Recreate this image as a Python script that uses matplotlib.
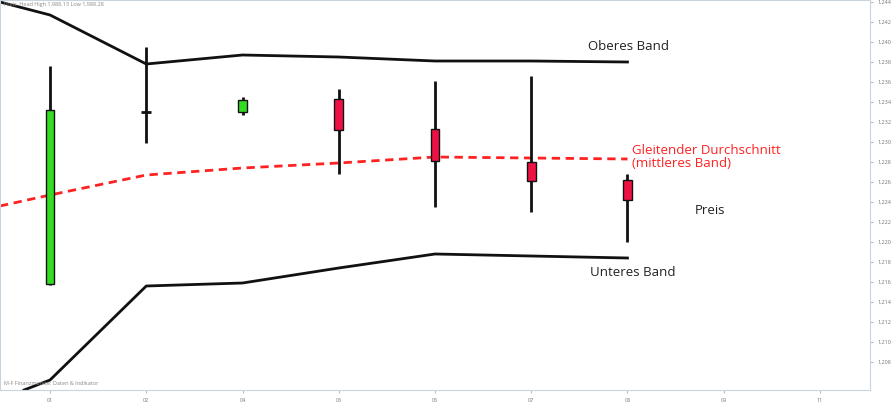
import numpy as np
from matplotlib import pyplot as plt

# candles
idx = [0, 1, 2, 3, 4, 5, 6]
opens = [1215.8, 1233.0, 1233.0, 1234.3, 1231.3, 1228.0, 1226.2]
closes = [1233.2, 1233.1, 1234.2, 1231.2, 1228.1, 1226.1, 1224.2]
highs = [1237.6, 1239.5, 1234.5, 1235.3, 1236.1, 1236.6, 1226.8]
lows = [1215.7, 1229.9, 1232.7, 1226.8, 1223.5, 1223.0, 1220.0]

# bands
band_x = [-0.52, 0, 1, 2, 3, 4, 5, 6]
upper = [1244.0, 1242.7, 1237.8, 1238.7, 1238.5, 1238.1, 1238.1, 1238.0]
middle = [1223.6, 1224.7, 1226.7, 1227.4, 1227.9, 1228.5, 1228.4, 1228.3]
lower_x = [-0.27, 0, 1, 2, 3, 4, 5, 6]
lower = [1205.2, 1206.2, 1215.6, 1215.9, 1217.4, 1218.8, 1218.6, 1218.4]

xticks = [0, 1, 2, 3, 4, 5, 6, 7, 8]
xlabels = ["01", "02", "04", "05", "06", "07", "08", "09", "11"]
yticks = np.arange(1208, 1245, 2)

plt.rcParams['font.family'] = ['Open Sans', 'DejaVu Sans']

fig = plt.figure(figsize=(8.94, 4.2), dpi=100)
ax = fig.add_axes([0.0, 30/420, 870/894, 390/420])

ax.plot(band_x, upper, color="#111111", lw=2)
ax.plot(lower_x, lower, color="#111111", lw=2)
ax.plot(band_x, middle, color="#ff2222", lw=2, ls=(0, (3, 2)))

for i, o, c, h, l in zip(idx, opens, closes, highs, lows):
    col = "#33dd22" if c >= o else "#ee1144"
    ax.vlines(i, l, h, color="#111111", lw=2, zorder=2)
    if abs(c - o) < 0.3:
        ax.hlines(o, i - 0.05, i + 0.05, color="#111111", lw=2, zorder=3)
    else:
        ax.bar(i, c - o, bottom=o, width=0.09, color=col, edgecolor="#111111", lw=1, zorder=3)

ax.text(5.59, 1239.5, "Oberes Band", fontsize=9.5, color="#222222", va="center")
ax.text(6.05, 1228.5, "Gleitender Durchschnitt\n(mittleres Band)", fontsize=9.5, color="#ff2222",
        va="center", linespacing=1.0)
ax.text(6.70, 1223.2, "Preis", fontsize=9.5, color="#222222", va="center")
ax.text(5.61, 1217.0, "Unteres Band", fontsize=9.5, color="#222222", va="center")

ax.set_xlim(-0.52, 8.52)
ax.set_ylim(1205.2, 1244.2)
ax.set_xticks(xticks)
ax.set_xticklabels(xlabels, fontsize=4, color="#777777")
ax.yaxis.tick_right()
ax.set_yticks(yticks)
ax.set_yticklabels(["1,%d" % (v - 1000) for v in yticks], fontsize=4, color="#777777")
ax.tick_params(length=2, color="#bbbbbb")
for s in ax.spines.values():
    s.set_color("#c8d4e0")
ax.text(0.005, 0.995, "Preis  Head High 1,988.13 Low 1,988.28", transform=ax.transAxes,
        fontsize=4, color="#888888", va="top")
ax.text(0.005, 0.01, "M-F Finanzmarkte: Daten & Indikator", transform=ax.transAxes,
        fontsize=4, color="#888888", va="bottom")

fig.savefig("out.png", dpi=100)
